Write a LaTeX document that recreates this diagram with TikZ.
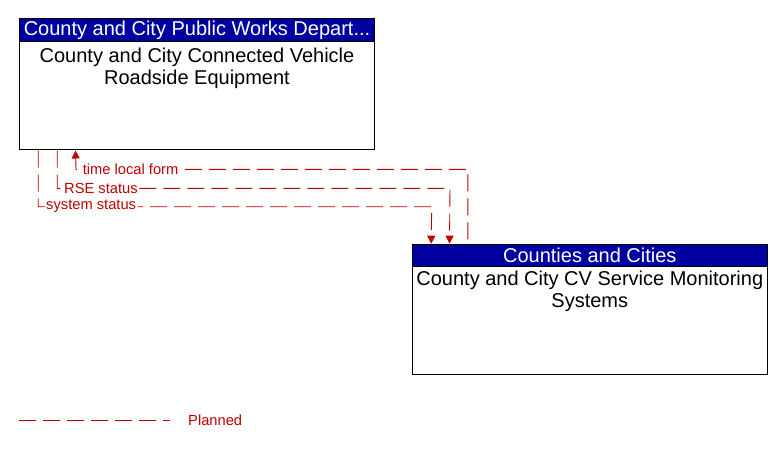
\documentclass[tikz,border=0pt]{standalone}
\usepackage{fontspec}
\setmainfont{Liberation Sans}
\usetikzlibrary{arrows.meta}
\definecolor{hdrblue}{RGB}{0,0,160}
\definecolor{flowred}{RGB}{192,0,0}
\tikzset{
  boxnode/.style={draw=black, line width=1pt, fill=white, inner sep=0pt},
  hdrnode/.style={draw=black, line width=1pt, fill=hdrblue, text=white, inner sep=0pt, font=\fontsize{20}{22}\selectfont},
  bodytext/.style={inner sep=0pt, align=center, font=\fontsize{20}{22}\selectfont},
  conn/.style={draw=flowred, line width=0.9pt, dash pattern=on 17pt off 7pt},
  arr/.style={-{Triangle[width=8pt,length=8pt]}},
  rarr/.style={{Triangle[width=8pt,length=8pt]}-},
  lbl/.style={text=flowred, fill=white, inner xsep=1.5pt, inner ysep=0.5pt, font=\fontsize{14.7}{16}\selectfont}
}
\begin{document}
\begin{tikzpicture}[x=1pt,y=-1pt]
\useasboundingbox (0,0) rectangle (783,449);
% Left box
\node[boxnode, minimum width=355pt, minimum height=131pt] (rse) at (197,84.5) {};
\node[hdrnode, minimum width=355pt, minimum height=23pt, anchor=north] (rseh) at (rse.north) {County and City Public Works Depart...};
\node[bodytext, anchor=north] (rset) at ([yshift=-5pt]rseh.south) {County and City Connected Vehicle\\Roadside Equipment};
% Right box
\node[boxnode, minimum width=355pt, minimum height=130pt] (mon) at (589.8,309.2) {};
\node[hdrnode, minimum width=355pt, minimum height=22.5pt, anchor=north] (monh) at (mon.north) {Counties and Cities};
\node[bodytext, anchor=north] (mont) at ([yshift=-4pt]monh.south) {County and City CV Service Monitoring\\Systems};
% Connectors
\draw[conn, rarr] ([xshift=56.5pt]rse.south west) -- (76,169.3) -| ([xshift=56pt]mon.north west);
\draw[conn, arr] ([xshift=38.2pt]rse.south west) |- (450,188.3) -- ([xshift=37.7pt]mon.north west);
\draw[conn, arr] ([xshift=19.2pt]rse.south west) |- (431.7,206.7) -- ([xshift=19.4pt]mon.north west);
\node[lbl, anchor=west, inner xsep=0pt] (l1) at (76.6,169.3) {\hspace{6pt}time local form\hspace{1.5pt}};
\node[lbl, anchor=west] (l2) at (62.5,188.3) {RSE status};
\node[lbl, anchor=west] (l3) at (44.5,206.7) {system status};
% Legend
\coordinate (lg1) at (19,420);
\coordinate (lg2) at (170,420);
\draw[conn] (lg1) -- (lg2);
\node[lbl, anchor=west] (lgt) at (186.5,420) {Planned};
\end{tikzpicture}
\end{document}
